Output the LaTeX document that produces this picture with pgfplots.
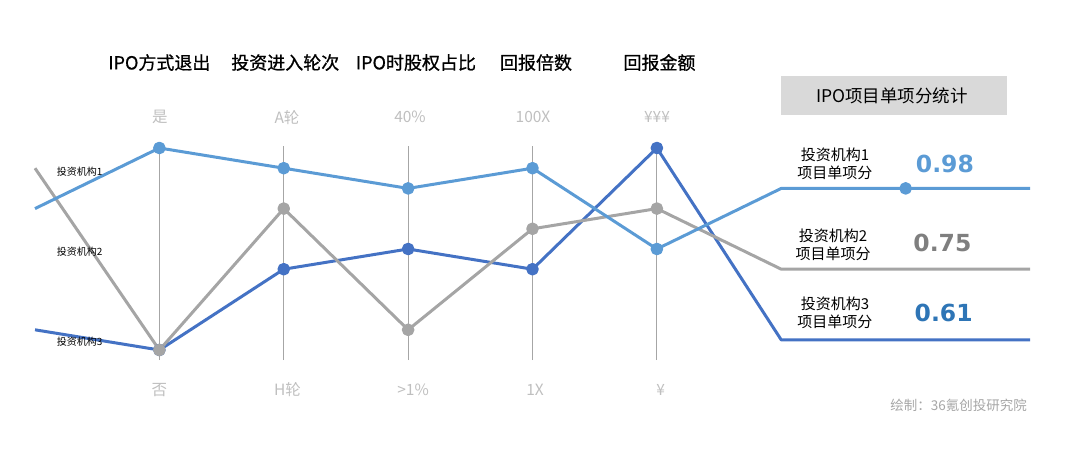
\documentclass[border=0pt]{standalone}
\usepackage{pgfplots}
\pgfplotsset{compat=1.18}
\usepackage{fontspec}
\setmainfont{Noto Sans CJK SC}
\newfontfamily\titlefont{Noto Sans CJK SC}[FakeBold=0.8]
\newfontfamily\numfont{DejaVu Sans}
\definecolor{lblue}{HTML}{5B9BD5}
\definecolor{dblue}{HTML}{4472C4}
\definecolor{sgray}{HTML}{A5A5A5}
\definecolor{vgray}{HTML}{A6A6A6}
\definecolor{tgray}{HTML}{BFBFBF}
\definecolor{boxgray}{HTML}{D9D9D9}
\definecolor{numgray}{HTML}{7F7F7F}
\definecolor{numblue}{HTML}{2E75B6}
\begin{document}
\begin{tikzpicture}
\begin{axis}[
  width=1080pt, height=450pt, scale only axis,
  xmin=-0.28141, xmax=8.40201, ymin=-4.9505, ymax=17.3267,
  axis lines=none, clip=false,
  every axis plot/.append style={line join=round},
]
\path (rel axis cs:0,0) rectangle (rel axis cs:1,1);
% vertical guide lines
\addplot[vgray, line width=1pt, forget plot] coordinates {(1,-0.495) (1,10.1)};
\addplot[vgray, line width=1pt, forget plot] coordinates {(2,-0.495) (2,10.1)};
\addplot[vgray, line width=1pt, forget plot] coordinates {(3,-0.495) (3,10.1)};
\addplot[vgray, line width=1pt, forget plot] coordinates {(4,-0.495) (4,10.1)};
\addplot[vgray, line width=1pt, forget plot] coordinates {(5,-0.495) (5,10.1)};
% 投资机构3
\addplot[dblue, line width=3pt, mark=*, mark size=4.8pt, mark indices={2,3,4,5,6}]
  coordinates {(0,1) (1,0) (2,4) (3,5) (4,4) (5,10) (6,0.5) (8,0.5)};
% 投资机构2
\addplot[sgray, line width=3pt, mark=*, mark size=4.8pt, mark indices={2,3,4,5,6}]
  coordinates {(0,9) (1,0) (2,7) (3,1) (4,6) (5,7) (6,4) (8,4)};
% 投资机构1
\addplot[lblue, line width=3pt, mark=*, mark size=4.8pt, mark indices={2,3,4,5,6,8}]
  coordinates {(0,7) (1,10) (2,9) (3,8) (4,9) (5,5) (6,8) (7,8) (8,8)};

% column titles
\begin{scope}[every node/.style={font=\titlefont\fontsize{18}{21}\selectfont, inner sep=0pt}]
\node at (axis cs:1.0,14.23) {IPO方式退出};
\node at (axis cs:2.012,14.23) {投资进入轮次};
\node at (axis cs:3.063,14.23) {IPO时股权占比};
\node at (axis cs:4.028,14.23) {回报倍数};
\node at (axis cs:5.021,14.23) {回报金额};
\end{scope}
% top and bottom labels
\begin{scope}[every node/.style={font=\fontsize{15.5}{18}\selectfont, text=tgray, inner sep=0pt}]
\node at (axis cs:1.005,11.53) {是};
\node at (axis cs:2.026,11.53) {A轮};
\node at (axis cs:3.015,11.53) {40\%};
\node at (axis cs:4.004,11.53) {100X};
\node at (axis cs:5.001,11.53) {¥¥¥};
\node at (axis cs:1.0,-1.98) {否};
\node at (axis cs:2.03,-1.98) {H轮};
\node at (axis cs:3.04,-1.98) {>1\%};
\node at (axis cs:4.02,-1.98) {1X};
\node at (axis cs:5.03,-1.98) {¥};
\end{scope}
% left series names
\begin{scope}[every node/.style={font=\fontsize{10}{12}\selectfont, inner sep=0pt}]
\node at (axis cs:0.358,8.83) {投资机构1};
\node at (axis cs:0.358,4.87) {投资机构2};
\node at (axis cs:0.358,0.41) {投资机构3};
\end{scope}
% summary box
\fill[boxgray] (axis cs:6.0,11.634) rectangle (axis cs:7.815,13.564);
\node[font=\fontsize{17.5}{20}\selectfont, inner sep=0pt] at (axis cs:6.89,12.57) {IPO项目单项分统计};
\begin{scope}[every node/.style={font=\fontsize{15}{18}\selectfont, align=center, inner sep=0pt}]
\node at (axis cs:6.432,9.21) {投资机构1\\项目单项分};
\node at (axis cs:6.416,5.22) {投资机构2\\项目单项分};
\node at (axis cs:6.432,1.856) {投资机构3\\项目单项分};
\end{scope}
\begin{scope}[every node/.style={font=\numfont\bfseries\fontsize{23.5}{26}\selectfont, inner sep=0pt}]
\node[text=lblue] at (axis cs:7.316,9.21) {0.98};
\node[text=numgray] at (axis cs:7.296,5.297) {0.75};
\node[text=numblue] at (axis cs:7.306,1.847) {0.61};
\end{scope}
\node[font=\fontsize{13.5}{16}\selectfont, text=vgray, anchor=east, inner sep=0pt] at (axis cs:7.976,-2.72) {绘制：36氪创投研究院};
\end{axis}
\end{tikzpicture}
\end{document}
